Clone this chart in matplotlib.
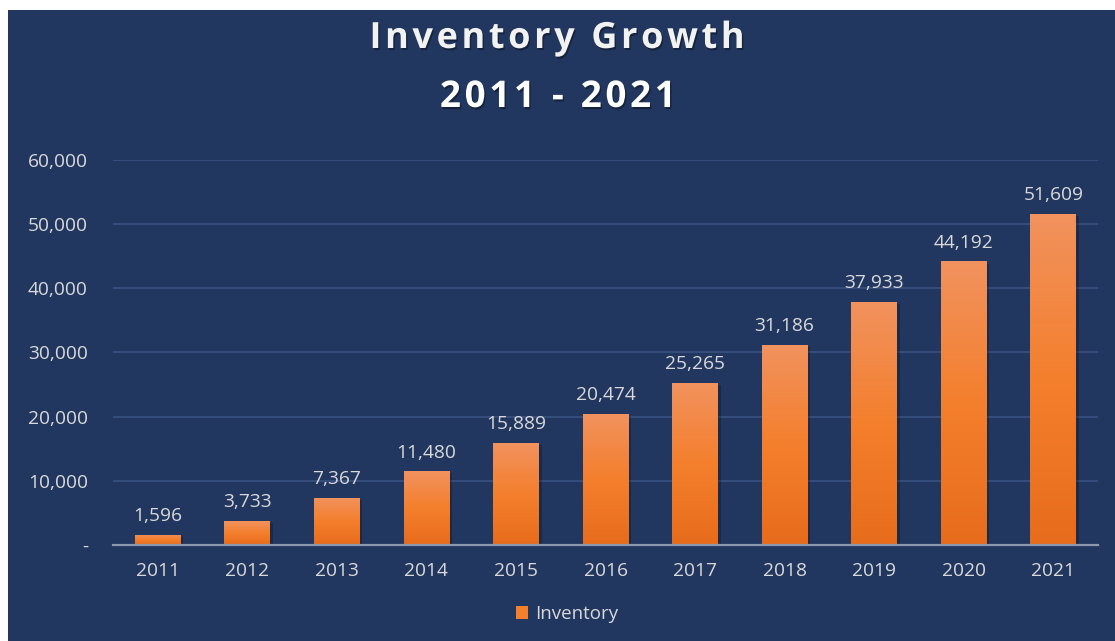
import matplotlib.pyplot as plt
import matplotlib.patheffects as pe
from matplotlib.patches import Patch, Rectangle
from matplotlib.colors import LinearSegmentedColormap
import numpy as np

years = ['2011', '2012', '2013', '2014', '2015', '2016', '2017', '2018', '2019', '2020', '2021']
inventory = [1596, 3733, 7367, 11480, 15889, 20474, 25265, 31186, 37933, 44192, 51609]
y_ticks = [0, 10000, 20000, 30000, 40000, 50000, 60000]
y_tick_labels = ['-', '10,000', '20,000', '30,000', '40,000', '50,000', '60,000']

navy = '#21375F'
text_col = '#D9D9D9'
bar_cmap = LinearSegmentedColormap.from_list('bar', ['#E76C1B', '#F47F2D', '#F1925E'])

plt.rcParams['font.family'] = ['Open Sans', 'DejaVu Sans']

fig = plt.figure(figsize=(11.15, 6.41), dpi=100, facecolor='white')
# navy panel behind the chart
fig.patches.append(Rectangle((8 / 1115, 0), 1, 1 - 10 / 641, transform=fig.transFigure,
                             facecolor=navy, edgecolor='none', zorder=-5))

ax = fig.add_axes([0.1013, 0.1498, 0.8835, 0.6006])
ax.set_facecolor('none')

x = np.arange(len(years))
bars = ax.bar(x, inventory, width=0.51, color='#F47F2D', zorder=2,
              path_effects=[pe.SimplePatchShadow(offset=(2, -1.5), alpha=0.22, shadow_rgbFace='black'),
                            pe.Normal()])

# vertical gradient on every bar
grad = np.linspace(0, 1, 256).reshape(-1, 1)
for b in bars:
    x0, w, h = b.get_x(), b.get_width(), b.get_height()
    im = ax.imshow(grad, cmap=bar_cmap, origin='lower', aspect='auto',
                   extent=(x0, x0 + w, 0, h), zorder=3)
    im.set_clip_path(b)

for xi, v in zip(x, inventory):
    ax.annotate(f'{v:,}', (xi, v), xytext=(0, 7), textcoords='offset points',
                ha='center', va='bottom', fontsize=13.8, color=text_col)

ax.set_xlim(-0.5, len(years) - 0.5)
ax.set_ylim(0, 60000)
ax.set_xticks(x)
ax.set_xticklabels(years)
ax.set_yticks(y_ticks)
ax.set_yticklabels(y_tick_labels)
ax.tick_params(axis='both', length=0, labelsize=13.8, labelcolor=text_col)
ax.tick_params(axis='y', pad=18)
ax.tick_params(axis='x', pad=12)
ax.grid(axis='y', color='#3A5280', linewidth=1.2, zorder=0)
ax.set_axisbelow(True)
for side in ['top', 'right', 'left']:
    ax.spines[side].set_visible(False)
ax.spines['bottom'].set_color('#8E98AC')
ax.spines['bottom'].set_linewidth(1.6)
ax.spines['bottom'].set_zorder(4)

# title, letter-spaced with hair spaces
title_fx = [pe.SimplePatchShadow(offset=(1, -1.5), alpha=0.35, shadow_rgbFace='black'), pe.Normal()]
spaced = lambda s: '\u200a'.join(s)
fig.text(0.5, 1 - 39 / 641, spaced('Inventory Growth'), ha='center', va='center',
         fontsize=26, fontweight='bold', color='#F2F2F2', path_effects=title_fx)
fig.text(0.5, 1 - 97 / 641, spaced('2011 - 2021'), ha='center', va='center',
         fontsize=26.5, fontweight='bold', color='white', path_effects=title_fx)

fig.legend(handles=[Patch(facecolor='#F47F2D', label='Inventory')], loc='center',
           bbox_to_anchor=(567 / 1115, 1 - 614 / 641), frameon=False, fontsize=13.5,
           labelcolor=text_col, handlelength=0.65, handleheight=0.65, handletextpad=0.35)

fig.savefig('out.png', dpi=100, facecolor='white')
